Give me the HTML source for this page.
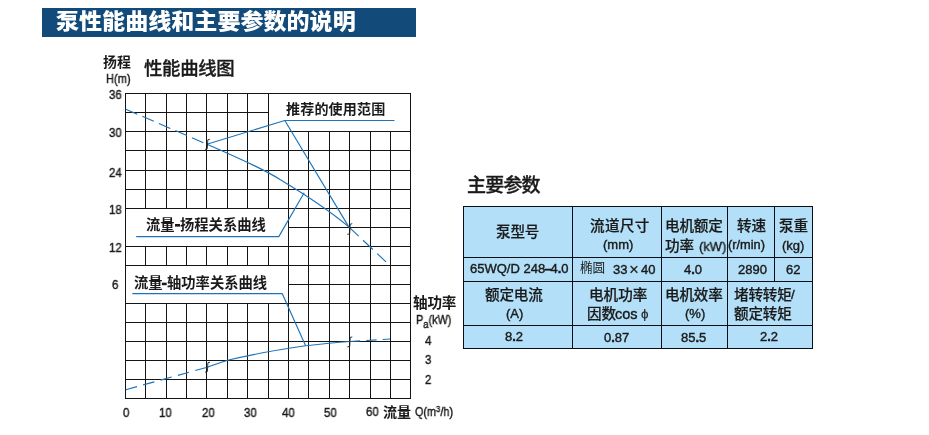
<!DOCTYPE html>
<html lang="zh-CN">
<head>
<meta charset="utf-8">
<title>泵性能曲线和主要参数的说明</title>
<style>
html,body{margin:0;padding:0;background:#fff}
body{width:929px;height:435px;position:relative;overflow:hidden;font-family:"Liberation Sans","Noto Sans CJK SC",sans-serif;color:#1a1a1a}
#banner{position:absolute;left:42px;top:8px;width:374px;height:28.6px;background:#124a79;color:#fff}
h1,h2{margin:0;font-weight:normal}
#chart{position:absolute;left:0;top:0}
.t{position:absolute;white-space:nowrap;line-height:1em;height:1em;will-change:transform}
.c{display:block;letter-spacing:var(--ls,0);font-family:"Liberation Sans","Noto Sans CJK SC",sans-serif}
.k{font-weight:900}
.b{font-weight:700}
.m{font-weight:500}
.r{font-weight:400}
.l{-webkit-text-stroke:0.4px #1a1a1a;transform-origin:0 50%}
sup,sub{font-size:0.72em;line-height:0}
sup{vertical-align:0.42em}
sub{vertical-align:-0.36em;font-size:0.88em}
.nd{margin:0 -1px}
#params{position:absolute;left:463px;top:206px;border-collapse:collapse;table-layout:fixed;width:350px;background:#b3e0f8}
#params td{border:1px solid #0a0e16;padding:0;vertical-align:top}
.cell{position:relative;width:0;height:0}
</style>
</head>
<body>
<header id="banner"><h1 class="t c k" style="left:13.7px;top:3.0px;font-size:21.75px;transform:scaleX(1.06);transform-origin:0 0">泵性能曲线和主要参数的说明</h1></header>
<section id="perf">
<svg id="chart" width="929" height="435" viewBox="0 0 929 435" role="img" aria-label="性能曲线图">
<g fill="#141414" shape-rendering="crispEdges">
<rect x="125" y="93" width="1" height="306"/>
<rect x="145" y="93" width="1" height="306"/>
<rect x="166" y="93" width="1" height="306"/>
<rect x="186" y="93" width="1" height="306"/>
<rect x="206" y="93" width="1" height="306"/>
<rect x="227" y="93" width="1" height="306"/>
<rect x="247" y="93" width="1" height="306"/>
<rect x="268" y="93" width="1" height="306"/>
<rect x="288" y="93" width="1" height="306"/>
<rect x="308" y="93" width="1" height="306"/>
<rect x="329" y="93" width="1" height="306"/>
<rect x="349" y="93" width="1" height="306"/>
<rect x="370" y="93" width="1" height="306"/>
<rect x="390" y="93" width="1" height="306"/>
<rect x="410" y="93" width="1" height="306"/>
<rect x="125" y="93" width="286" height="1"/>
<rect x="125" y="112" width="286" height="1"/>
<rect x="125" y="131" width="286" height="1"/>
<rect x="125" y="150" width="286" height="1"/>
<rect x="125" y="170" width="286" height="1"/>
<rect x="125" y="189" width="286" height="1"/>
<rect x="125" y="208" width="286" height="1"/>
<rect x="125" y="227" width="286" height="1"/>
<rect x="125" y="246" width="286" height="1"/>
<rect x="125" y="265" width="286" height="1"/>
<rect x="125" y="284" width="286" height="1"/>
<rect x="125" y="303" width="286" height="1"/>
<rect x="125" y="322" width="286" height="1"/>
<rect x="125" y="341" width="286" height="1"/>
<rect x="125" y="360" width="286" height="1"/>
<rect x="125" y="379" width="286" height="1"/>
<rect x="125" y="398" width="286" height="1"/>
</g>
<g fill="#fff" shape-rendering="crispEdges">
<rect x="269" y="94" width="141" height="37"/>
<rect x="126" y="209" width="162" height="37"/>
<rect x="126" y="266" width="162" height="37"/>
</g>
<g fill="none" stroke="#1c74ba" stroke-width="1.15" stroke-linecap="butt" stroke-linejoin="round">
<path d="M125.8,109.2 L206.9,144.2" stroke-dasharray="12.5 5.5"/>
<path d="M206.9,144.2 C232,155 262,168 280,179.5 C305,194.5 330,211 348.8,226.9"/>
<path d="M348.8,226.9 L386,261.8" stroke-dasharray="13.5 6"/>
<path d="M206.9,144.2 L284.8,120.5 L394.5,120.5"/>
<path d="M284.8,120.5 L348.8,226.9"/>
<path d="M136.2,236.6 L278.8,236.6 L304.2,192.8"/>
<path d="M132.3,293.6 L282.2,293.6 L305.6,345.8"/>
<path d="M125.8,389.7 L207.3,367.2" stroke-dasharray="11.6 6.4"/>
<path d="M207.3,367.2 C214,365 221,362.4 227.6,360.3 C255,353.5 280,349.5 305.6,345.8 C322,343.8 336,342.4 349.7,341.5"/>
<path d="M349.7,341.5 L390,339" stroke-dasharray="10.5 6"/>
</g>
<g fill="#1a1a1a"><rect x="175.0" y="224.0" width="5.0" height="2.6"/><rect x="161.9" y="282.7" width="4.8" height="2.5"/></g>
<g fill="none" stroke="#1c1c1c" stroke-width="0.9" stroke-linecap="round" stroke-linejoin="round">
<path d="M209.5,139.4 L207.8,139.8 L207.3,148.7 L205.3,149.3"/>
<path d="M351.9,223.8 L350.2,224.2 L349.7,233.7 L347.7,234.3"/>
<path d="M209.6,362.3 L207.9,362.7 L207.4,371.5 L205.4,372.1"/>
<path d="M351.9,337.0 L350.2,337.4 L349.7,346.3 L347.7,346.9"/>
</g>
</svg>
<div class="t c b" style="left:102.9px;top:56.0px;font-size:13.9px;">扬程</div>
<div class="t l" style="left:105.6px;top:73.4px;font-size:12px;transform:scaleX(0.92);">H(m)</div>
<div class="t c m" style="left:143.5px;top:60.2px;font-size:18.4px;--ls:-0.3px;-webkit-text-stroke:0.35px currentColor;">性能曲线图</div>
<div class="t l" style="left:108.6px;top:88.7px;font-size:12.0px;transform:scaleX(0.95);">36</div>
<div class="t l" style="left:108.6px;top:126.6px;font-size:12.0px;transform:scaleX(0.95);">30</div>
<div class="t l" style="left:108.6px;top:166.7px;font-size:12.0px;transform:scaleX(0.95);">24</div>
<div class="t l" style="left:108.6px;top:203.6px;font-size:12.0px;transform:scaleX(0.95);">18</div>
<div class="t l" style="left:108.6px;top:241.8px;font-size:12.0px;transform:scaleX(0.95);">12</div>
<div class="t l" style="left:111.8px;top:278.5px;font-size:12.0px;transform:scaleX(0.95);">6</div>
<div class="t l" style="left:122.8px;top:407.2px;font-size:12.0px;transform:scaleX(0.95);">0</div>
<div class="t l" style="left:159.3px;top:407.2px;font-size:12.0px;transform:scaleX(0.95);">10</div>
<div class="t l" style="left:201.9px;top:407.2px;font-size:12.0px;transform:scaleX(0.95);">20</div>
<div class="t l" style="left:243.6px;top:407.2px;font-size:12.0px;transform:scaleX(0.95);">30</div>
<div class="t l" style="left:282.3px;top:406.8px;font-size:12.0px;transform:scaleX(0.95);">40</div>
<div class="t l" style="left:324.3px;top:406.8px;font-size:12.0px;transform:scaleX(0.95);">50</div>
<div class="t l" style="left:366.3px;top:405.7px;font-size:12.0px;transform:scaleX(0.95);">60</div>
<div class="t c b" style="left:383.2px;top:404.7px;font-size:14.1px;">流量</div>
<div class="t l" style="left:415.0px;top:406.2px;font-size:12px;transform:scaleX(0.9);">Q(m<sup>3</sup>/h)</div>
<div class="t c b" style="left:286.0px;top:101.9px;font-size:14.05px;--ls:0.15px;">推荐的使用范围</div>
<div><div class="t c b" style="left:146.3px;top:217.8px;font-size:14.3px;">流量</div><div class="t c b" style="left:179.8px;top:217.8px;font-size:14.3px;">扬程关系曲线</div></div>
<div><div class="t c b" style="left:133.5px;top:275.5px;font-size:14.3px;">流量</div><div class="t c b" style="left:166.5px;top:275.5px;font-size:14.3px;">轴功率关系曲线</div></div>
<div class="t c b" style="left:413.3px;top:295.6px;font-size:14.6px;--ls:-0.2px;">轴功率</div>
<div class="t l" style="left:416.0px;top:314.4px;font-size:12px;transform:scaleX(0.9);">P<sub>a</sub>(kW)</div>
<div class="t l" style="left:425.2px;top:334.8px;font-size:12.0px;transform:scaleX(0.95);">4</div>
<div class="t l" style="left:425.2px;top:354.4px;font-size:12.0px;transform:scaleX(0.95);">3</div>
<div class="t l" style="left:425.2px;top:374.0px;font-size:12.0px;transform:scaleX(0.95);">2</div>
</section>
<section id="specs">
<h2 class="t c m" style="left:466.9px;top:175.9px;font-size:19.0px;--ls:-0.8px;-webkit-text-stroke:0.35px currentColor;">主要参数</h2>
<table id="params">
<colgroup><col style="width:109px"><col style="width:89px"><col style="width:66px"><col style="width:47px"><col style="width:38px"></colgroup>
<tr style="height:51px">
<td><div class="cell"><div class="t c m" style="left:32.0px;top:17.6px;font-size:14.6px;--ls:-0.2px;-webkit-text-stroke:0.2px currentColor;">泵型号</div></div></td>
<td><div class="cell"><div class="t c m" style="left:17.4px;top:12.3px;font-size:14.6px;--ls:0.3px;-webkit-text-stroke:0.2px currentColor;">流道尺寸</div><div class="t l" style="left:30.0px;top:31.4px;font-size:13px;">(mm)</div></div></td>
<td><div class="cell"><div class="t c m" style="left:3.2px;top:12.1px;font-size:14.6px;--ls:-0.2px;-webkit-text-stroke:0.2px currentColor;">电机额定</div><div class="t c m" style="left:3.2px;top:31.6px;font-size:14.6px;--ls:-0.2px;-webkit-text-stroke:0.2px currentColor;">功率</div><div class="t l" style="left:37.2px;top:32.6px;font-size:13.6px;transform:scaleX(0.95);">(kW)</div></div></td>
<td><div class="cell"><div class="t c m" style="left:8.8px;top:12.1px;font-size:14.6px;--ls:-0.2px;-webkit-text-stroke:0.2px currentColor;">转速</div><div class="t l" style="left:0.2px;top:31.8px;font-size:12.8px;">(r/min)</div></div></td>
<td><div class="cell"><div class="t c m" style="left:3.6px;top:12.1px;font-size:14.6px;--ls:-0.2px;-webkit-text-stroke:0.2px currentColor;">泵重</div><div class="t l" style="left:7.2px;top:31.6px;font-size:13px;">(kg)</div></div></td>
</tr>
<tr style="height:24px">
<td><div class="cell"><div class="t l" style="left:6.2px;top:3.8px;font-size:13px;">65WQ/D 248<b class="nd">&ndash;</b>4<b>.</b>0</div></div></td>
<td><div class="cell"><div class="t c r" style="left:7.0px;top:4.2px;font-size:12.6px;--ls:0px;">椭圆</div><div class="t l" style="left:40.4px;top:4.6px;font-size:13px;">33</div><div class="t l" style="left:56.4px;top:2.7px;font-size:17px;-webkit-text-stroke:0.1px #1a1a1a;">&times;</div><div class="t l" style="left:68.0px;top:4.6px;font-size:13px;">40</div></div></td>
<td><div class="cell"><div class="t l" style="left:22.2px;top:4.8px;font-size:13px;">4<b>.</b>0</div></div></td>
<td><div class="cell"><div class="t l" style="left:10.0px;top:4.8px;font-size:13px;">2890</div></div></td>
<td><div class="cell"><div class="t l" style="left:11.0px;top:4.8px;font-size:13px;">62</div></div></td>
</tr>
<tr style="height:44px">
<td><div class="cell"><div class="t c m" style="left:20.6px;top:6.3px;font-size:14.6px;--ls:-0.2px;-webkit-text-stroke:0.2px currentColor;">额定电流</div><div class="t l" style="left:42.4px;top:24.9px;font-size:13px;">(A)</div></div></td>
<td><div class="cell"><div class="t c m" style="left:15.6px;top:6.3px;font-size:14.6px;--ls:0px;-webkit-text-stroke:0.2px currentColor;">电机功率</div><div class="t c m" style="left:14.0px;top:25.2px;font-size:14.6px;--ls:-0.2px;-webkit-text-stroke:0.2px currentColor;">因数</div><div class="t l" style="left:42.2px;top:24.6px;font-size:14.5px;">cos</div><div class="t l" style="left:67.9px;top:25.4px;font-size:13.4px;-webkit-text-stroke:0.1px #1a1a1a;">&#981;</div></div></td>
<td><div class="cell"><div class="t c m" style="left:2.9px;top:6.0px;font-size:14.6px;--ls:-0.2px;-webkit-text-stroke:0.2px currentColor;">电机效率</div><div class="t l" style="left:23.2px;top:25.4px;font-size:13px;">(%)</div></div></td>
<td colspan="2"><div class="cell"><div class="t c m" style="left:5.6px;top:5.8px;font-size:14.6px;--ls:-0.2px;-webkit-text-stroke:0.2px currentColor;">堵转转矩</div><div class="t l" style="left:62.8px;top:6.2px;font-size:13.5px;">/</div><div class="t c m" style="left:5.6px;top:24.5px;font-size:14.6px;--ls:-0.2px;-webkit-text-stroke:0.2px currentColor;">额定转矩</div></div></td>
</tr>
<tr style="height:23px">
<td><div class="cell"><div class="t l" style="left:41.0px;top:4.0px;font-size:13px;">8<b>.</b>2</div></div></td>
<td><div class="cell"><div class="t l" style="left:31.0px;top:5.2px;font-size:13px;">0<b>.</b>87</div></div></td>
<td><div class="cell"><div class="t l" style="left:19.0px;top:5.2px;font-size:13px;">85<b>.</b>5</div></div></td>
<td colspan="2"><div class="cell"><div class="t l" style="left:32.4px;top:4.0px;font-size:13px;">2<b>.</b>2</div></div></td>
</tr>
</table>
</section>
</body>
</html>
